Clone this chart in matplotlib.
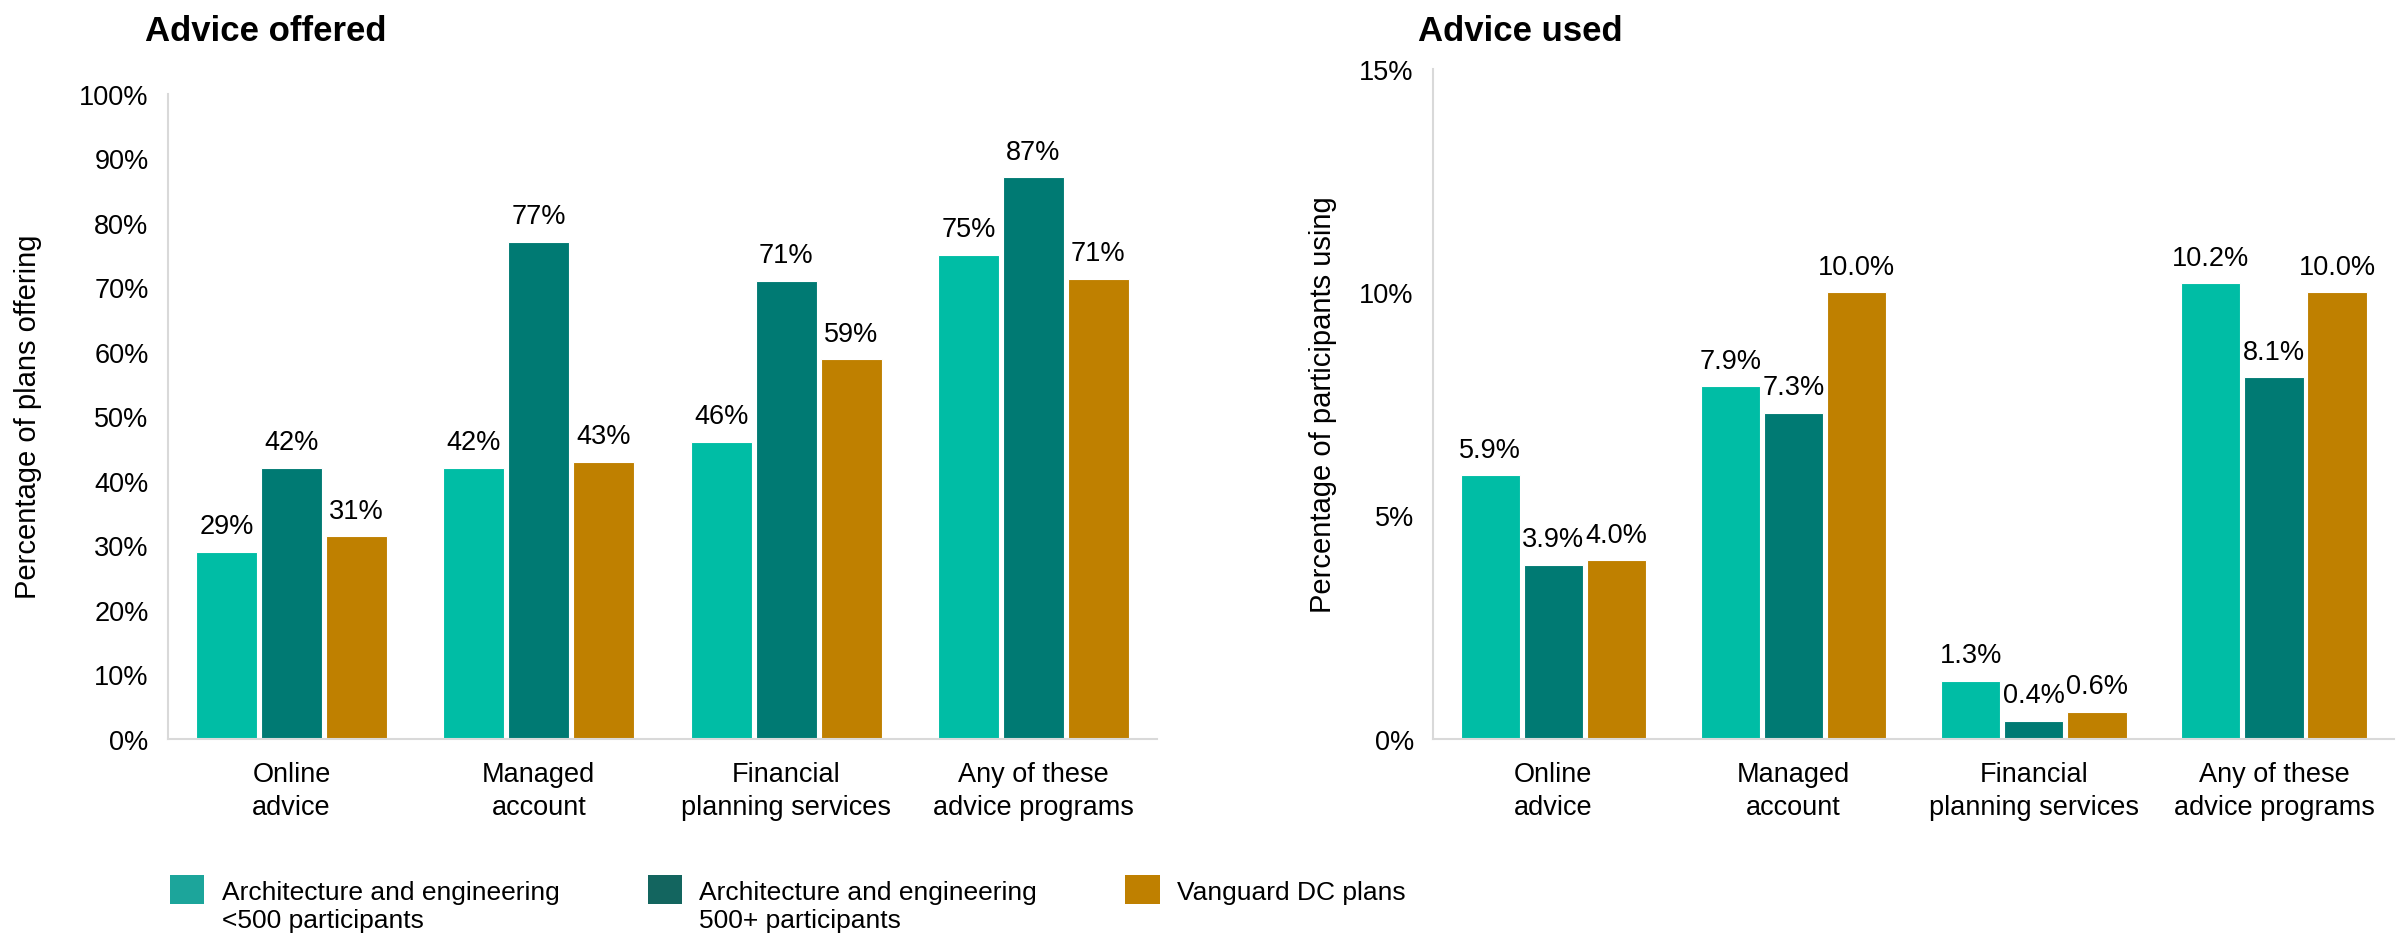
import numpy as np
import matplotlib.pyplot as plt
from matplotlib.patches import Patch, Rectangle
from matplotlib.legend_handler import HandlerPatch

plt.rcParams["font.family"] = ["Liberation Sans", "DejaVu Sans"]

# ── Data ───────────────────────────────────────────────────────────────────
categories = ["Online\nadvice", "Managed\naccount",
              "Financial\nplanning services", "Any of these\nadvice programs"]
series_names = ["Architecture and engineering\n<500 participants",
                "Architecture and engineering\n500+ participants",
                "Vanguard DC plans"]

offered_small = [29, 42, 46, 75]
offered_large = [42, 77, 71, 87]
offered_vanguard = [31.4, 42.9, 58.8, 71.3]

used_small = [5.9, 7.9, 1.3, 10.2]
used_large = [3.9, 7.3, 0.4, 8.1]
used_vanguard = [4.0, 10.0, 0.6, 10.0]

offered_ticks = [0, 10, 20, 30, 40, 50, 60, 70, 80, 90, 100]
used_ticks = [0, 5, 10, 15]

BAR_COLORS = ["#00bda5", "#007a73", "#bf8000"]
LEGEND_COLORS = ["#1ca59b", "#13655f", "#bf8000"]
SPINE = "#d9d9d9"
FS = 19.5        # horizontal text
FS_YLABEL = 21   # rotated axis titles
FS_LEGEND = 19

fig = plt.figure(figsize=(23.96, 9.37), dpi=100)


def draw_panel(ax, series, ticks, fmt, ylabel, labelpad):
    x = np.arange(len(categories))
    offsets = [-0.263, 0.0, 0.263]
    for vals, off, col in zip(series, offsets, BAR_COLORS):
        bars = ax.bar(x + off, vals, width=0.247, color=col,
                      edgecolor="white", linewidth=0.8, zorder=2)
        ax.bar_label(bars, labels=[fmt(v) for v in vals], padding=9,
                     fontsize=FS, color="black")
    ax.set_xlim(-0.5, len(categories) - 0.5)
    ax.set_ylim(ticks[0], ticks[-1])
    ax.set_yticks(ticks)
    ax.set_yticklabels([f"{t}%" for t in ticks], fontsize=FS)
    ax.set_xticks(x)
    ax.set_xticklabels(categories, fontsize=FS, linespacing=1.35)
    ax.tick_params(axis="both", length=0)
    ax.tick_params(axis="x", pad=16)
    ax.tick_params(axis="y", pad=14)
    for side in ("top", "right"):
        ax.spines[side].set_visible(False)
    for side in ("left", "bottom"):
        ax.spines[side].set_color(SPINE)
        ax.spines[side].set_linewidth(1.5)
    ax.set_ylabel(ylabel, fontsize=FS_YLABEL, labelpad=labelpad)


# ── Left panel: advice offered ─────────────────────────────────────────────
ax1 = fig.add_axes([0.0701, 0.2107, 0.4128, 0.6883])
draw_panel(ax1, [offered_small, offered_large, offered_vanguard],
           offered_ticks, lambda v: f"{v:.0f}%",
           "Percentage of plans offering", 27)

# ── Right panel: advice used ───────────────────────────────────────────────
ax2 = fig.add_axes([0.5982, 0.2107, 0.4010, 0.7143])
draw_panel(ax2, [used_small, used_large, used_vanguard],
           used_ticks, lambda v: f"{v:.1f}%",
           "Percentage of participants using", 16)

fig.text(0.0605, 0.984, "Advice offered", fontsize=25, fontweight="bold",
         va="top", ha="left")
fig.text(0.5918, 0.984, "Advice used", fontsize=25, fontweight="bold",
         va="top", ha="left")


# ── Legend ────────────────────────────────────────────────────────────────
def top_aligned_swatch(legend, orig_handle, xdescent, ydescent,
                       width, height, fontsize):
    # lift the swatch so it sits beside the first line of a two-line label
    return Rectangle((-xdescent, -ydescent + 0.63 * fontsize), width, height)


# pad single-line names to two lines so every entry lines up at the top
legend_labels = [n if "\n" in n else n + "\n" for n in series_names]
handles = [Patch(facecolor=c, edgecolor="none", label=n)
           for c, n in zip(LEGEND_COLORS, legend_labels)]
fig.legend(handles=handles, loc="upper left", bbox_to_anchor=(0.071, 0.060),
           ncol=3, frameon=False, fontsize=FS_LEGEND, handlelength=1.3,
           handleheight=1.3, handletextpad=0.65, columnspacing=3.35,
           labelspacing=0.3, borderaxespad=0, borderpad=0,
           handler_map={Patch: HandlerPatch(patch_func=top_aligned_swatch)})

fig.savefig("out.png", dpi=100)
